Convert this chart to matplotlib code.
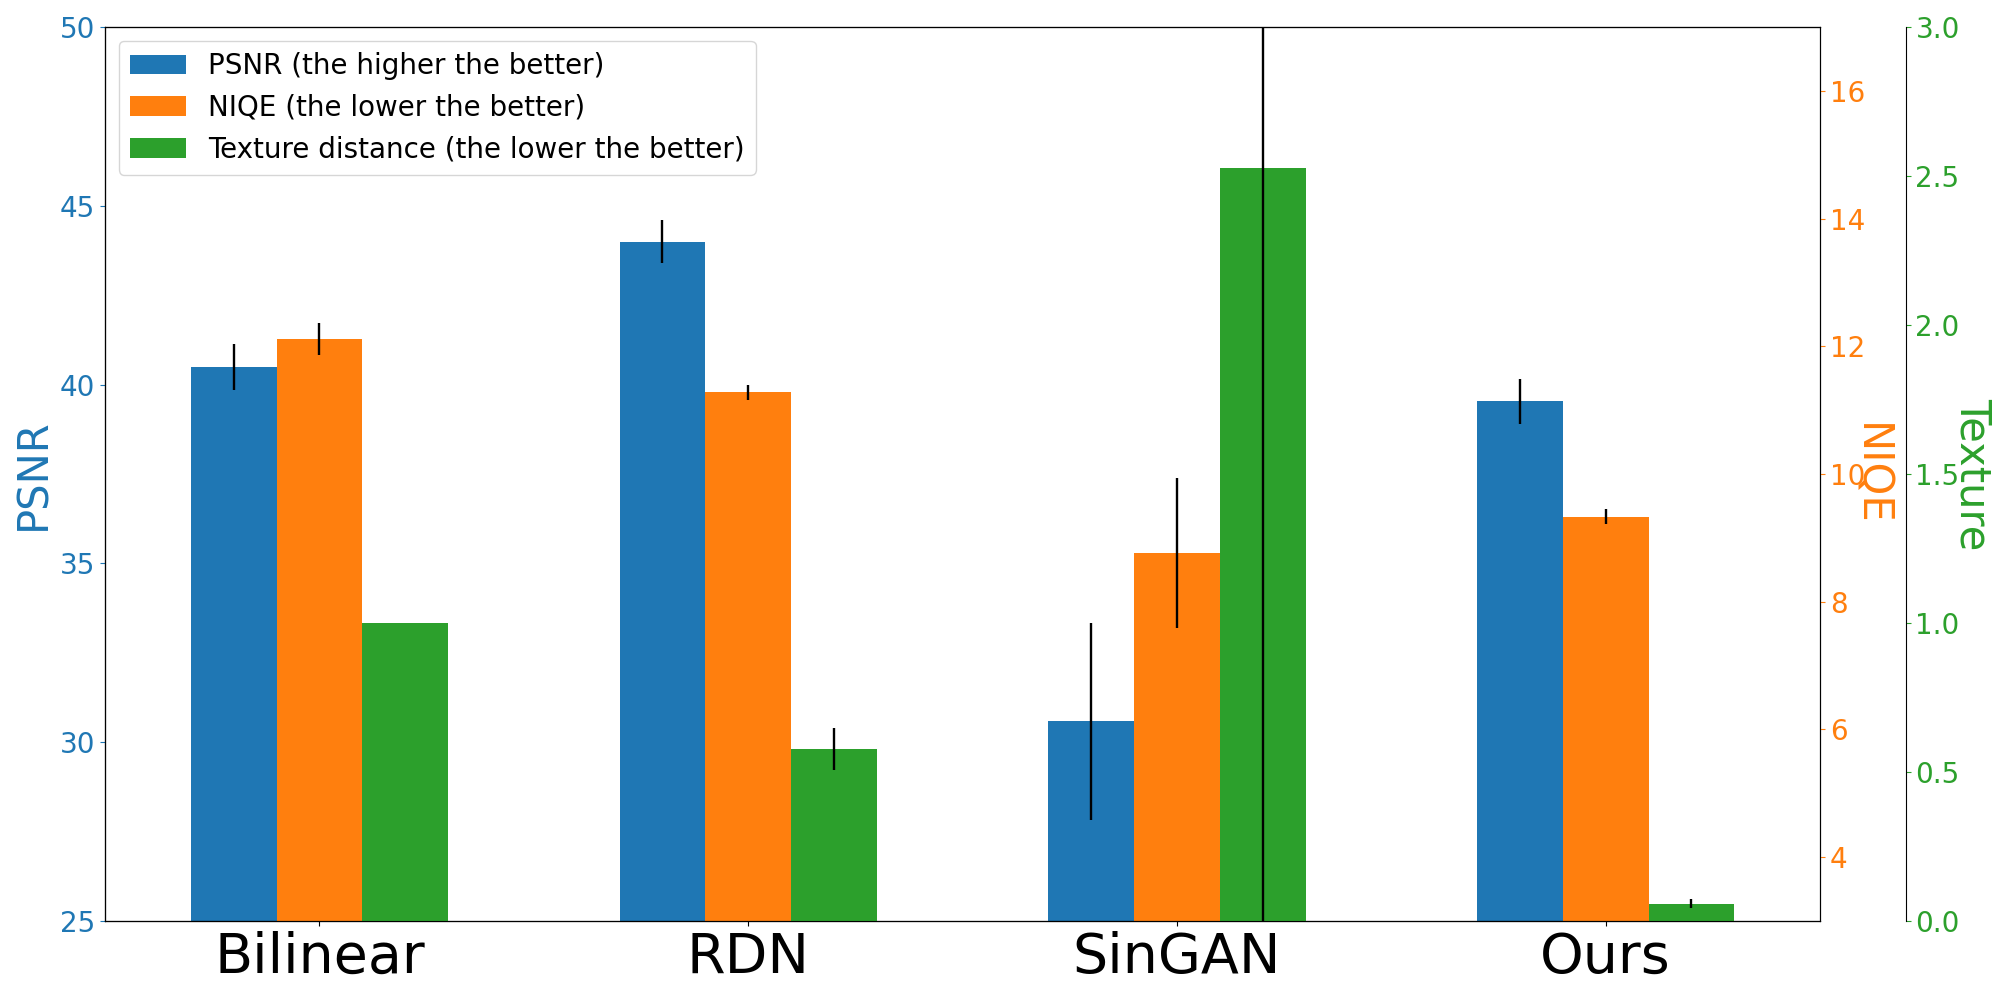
import matplotlib
matplotlib.use("Agg")
import matplotlib.pyplot as plt
import numpy as np

methods = ["Bilinear", "RDN", "SinGAN", "Ours"]
psnr = [40.5, 44.0, 30.58, 39.53]
psnr_err = [0.64, 0.6, 2.76, 0.64]
niqe = [12.12, 11.28, 8.76, 9.33]
niqe_err = [0.25, 0.12, 1.17, 0.115]
texture = [1.0, 0.576, 2.527, 0.058]
texture_err = [0.0, 0.07, 2.6, 0.015]

c_psnr = "#1f77b4"
c_niqe = "#ff7f0e"
c_tex = "#2ca02c"

fig = plt.figure(figsize=(20, 10), dpi=100)
ax1 = fig.add_subplot(111)
fig.subplots_adjust(left=0.0525, right=0.91, bottom=0.079, top=0.973)
ax2 = ax1.twinx()
ax3 = ax1.twinx()
ax3.spines["right"].set_position(("axes", 1.05))

x = np.arange(len(methods))
w = 0.2
ekw = dict(ecolor="black", elinewidth=1.7)
b1 = ax1.bar(x - w, psnr, w, yerr=psnr_err, color=c_psnr, error_kw=ekw,
             label="PSNR (the higher the better)")
b2 = ax2.bar(x, niqe, w, yerr=niqe_err, color=c_niqe, error_kw=ekw,
             label="NIQE (the lower the better)")
b3 = ax3.bar(x + w, texture, w, yerr=texture_err, color=c_tex, error_kw=ekw,
             label="Texture distance (the lower the better)")

ax1.set_xlim(-0.5, 3.5)
ax1.set_ylim(25, 50)
ax2.set_ylim(3, 17)
ax3.set_ylim(0, 3)
ax2.set_yticks([4, 6, 8, 10, 12, 14, 16])
ax3.set_yticks([0.0, 0.5, 1.0, 1.5, 2.0, 2.5, 3.0])

ax1.set_xticks(x)
ax1.set_xticklabels(methods, fontsize=40)

ax1.set_ylabel("PSNR", color=c_psnr, fontsize=30)
ax2.set_ylabel("NIQE", color=c_niqe, fontsize=30, rotation=270, labelpad=19)
ax3.set_ylabel("Texture", color=c_tex, fontsize=30, rotation=270, labelpad=24)

ax1.tick_params(axis="y", colors=c_psnr, labelsize=20)
ax2.tick_params(axis="y", colors=c_niqe, labelsize=20)
ax3.tick_params(axis="y", colors=c_tex, labelsize=20)

handles = [b1, b2, b3]
ax3.legend(handles, [h.get_label() for h in handles], loc="upper left", fontsize=20)

fig.savefig("out.png", dpi=100)
